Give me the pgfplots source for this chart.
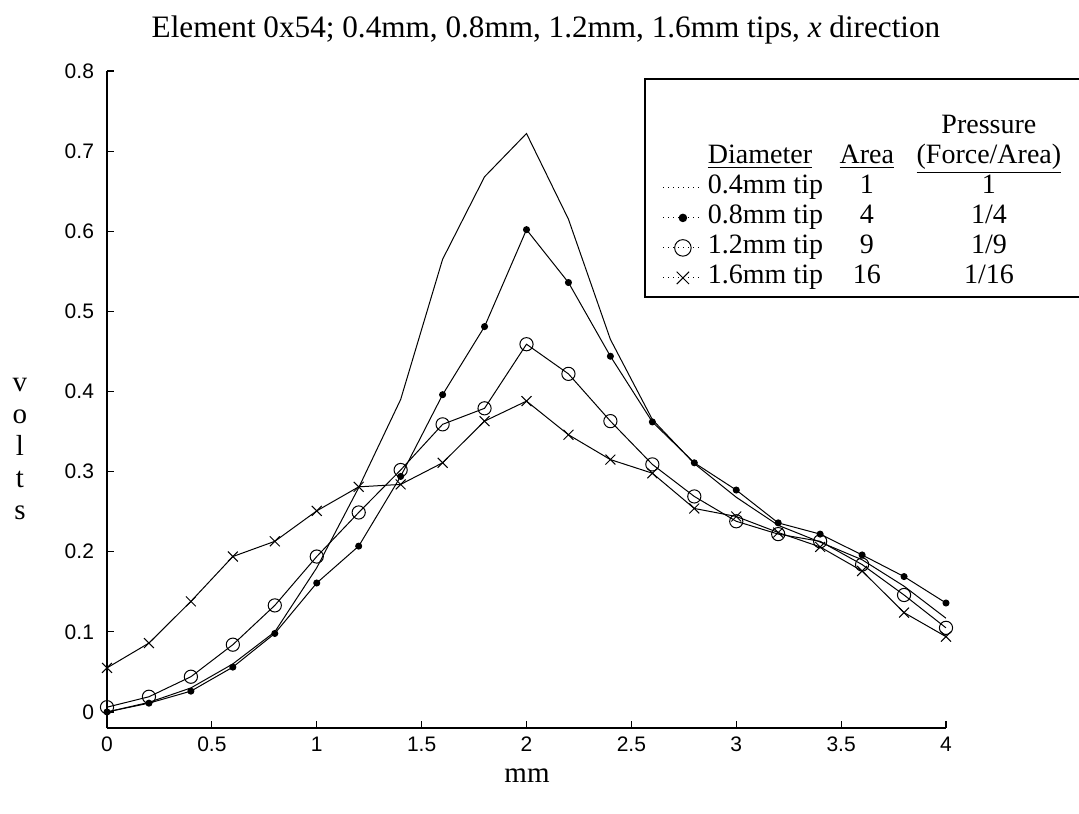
\documentclass[border=0pt]{standalone}
\usepackage{pgfplots}
\pgfplotsset{compat=1.18}
\usepackage{fontspec}
\setmainfont{Liberation Serif}
\newfontfamily\ticksf{Liberation Sans}
\begin{document}
\begin{tikzpicture}
\useasboundingbox (-53.5pt,-42.5pt) rectangle (486pt,364pt);
\begin{axis}[
  at={(0pt,0pt)}, anchor=south west,
  scale only axis,
  width=419.5pt, height=328.5pt,
  xmin=0, xmax=4, ymin=-0.02, ymax=0.8,
  axis x line=bottom, axis y line=left,
  axis line style={-, line width=0.6pt},
  tick align=inside,
  major tick length=3.5pt,
  tick style={line width=0.6pt, black},
  xtick={0,0.5,...,4},
  ytick={0,0.1,...,0.8},
  /pgf/number format/assume math mode=true,
  ticklabel style={font=\ticksf\fontsize{10.5pt}{12pt}\selectfont},
  yticklabel style={xshift=-3pt},
  xticklabel style={yshift=-1pt},
  every axis plot/.append style={line width=0.5pt, black},
  legend style={
    at={(0.64005,0.98935)}, anchor=north west,
    draw=black, line width=0.9pt, fill=white,
    font=\fontsize{14pt}{16pt}\selectfont,
    inner xsep=0pt, inner ysep=2pt,
    row sep=0pt, column sep=2.5pt,
    nodes={inner sep=0pt, text height=10.5pt, text depth=4.5pt},
    legend cell align=left,
  },
  legend image code/.code={
    \path (0pt,0pt) -- (0pt,0pt);
    \draw[mark repeat=2,mark phase=2,line width=0.5pt,dotted,
      every mark/.append style={scale=1.25}] plot coordinates {(9pt,0pt) (18.75pt,0pt) (28.5pt,0pt)};
  },
]
\addlegendimage{empty legend}
\addlegendentry{\makebox[186pt][l]{}}
\addlegendimage{empty legend}
\addlegendentry{\makebox[60pt][l]{}\makebox[39pt][c]{}\makebox[83pt][c]{Pressure}}
\addlegendimage{empty legend}
\addlegendentry{\makebox[60pt][l]{\underline{Diameter}}\makebox[39pt][c]{\underline{Area}}\makebox[83pt][c]{\underline{(Force/Area)}}}

\addplot[mark=none] coordinates {
(0,0.000) (0.2,0.012) (0.4,0.030) (0.6,0.060) (0.8,0.100) (1.0,0.180)
(1.2,0.280) (1.4,0.390) (1.6,0.565) (1.8,0.668) (2.0,0.722) (2.2,0.615)
(2.4,0.465) (2.6,0.365) (2.8,0.310) (3.0,0.268) (3.2,0.233) (3.4,0.212)
(3.6,0.190) (3.8,0.157) (4.0,0.117)};
\addlegendentry{\makebox[60pt][l]{0.4mm tip}\makebox[39pt][c]{1}\makebox[83pt][c]{1}}

\addplot[mark=*, mark size=1.5pt, mark options={solid, fill=black}] coordinates {
(0,0.000) (0.2,0.011) (0.4,0.026) (0.6,0.056) (0.8,0.098) (1.0,0.161)
(1.2,0.207) (1.4,0.294) (1.6,0.396) (1.8,0.481) (2.0,0.602) (2.2,0.536)
(2.4,0.444) (2.6,0.362) (2.8,0.311) (3.0,0.277) (3.2,0.236) (3.4,0.222)
(3.6,0.196) (3.8,0.169) (4.0,0.136)};
\addlegendentry{\makebox[60pt][l]{0.8mm tip}\makebox[39pt][c]{4}\makebox[83pt][c]{1/4}}

\addplot[mark=o, mark size=3.3pt, mark options={solid}] coordinates {
(0,0.006) (0.2,0.019) (0.4,0.044) (0.6,0.084) (0.8,0.133) (1.0,0.194)
(1.2,0.249) (1.4,0.302) (1.6,0.359) (1.8,0.379) (2.0,0.459) (2.2,0.422)
(2.4,0.363) (2.6,0.309) (2.8,0.269) (3.0,0.238) (3.2,0.222) (3.4,0.213)
(3.6,0.184) (3.8,0.146) (4.0,0.105)};
\addlegendentry{\makebox[60pt][l]{1.2mm tip}\makebox[39pt][c]{9}\makebox[83pt][c]{1/9}}

\addplot[mark=x, mark size=3.5pt, mark options={solid}] coordinates {
(0,0.055) (0.2,0.086) (0.4,0.138) (0.6,0.194) (0.8,0.213) (1.0,0.251)
(1.2,0.281) (1.4,0.284) (1.6,0.311) (1.8,0.363) (2.0,0.388) (2.2,0.346)
(2.4,0.315) (2.6,0.298) (2.8,0.254) (3.0,0.244) (3.2,0.224) (3.4,0.206)
(3.6,0.176) (3.8,0.124) (4.0,0.094)};
\addlegendentry{\makebox[60pt][l]{1.6mm tip}\makebox[39pt][c]{16}\makebox[83pt][c]{1/16}}
\end{axis}
\node[anchor=base, font=\fontsize{15.6pt}{18pt}\selectfont] at (219.5pt,345pt)
  {Element 0x54; 0.4mm, 0.8mm, 1.2mm, 1.6mm tips, \textit{x} direction};
\node[anchor=base, font=\fontsize{14.5pt}{17pt}\selectfont] at (210pt,-27pt) {mm};
\begin{scope}[every node/.style={anchor=base, font=\fontsize{14.5pt}{17pt}\selectfont}]
\node at (-43.5pt,168pt) {v};
\node at (-43.5pt,152pt) {o};
\node at (-43.5pt,136pt) {l};
\node at (-43.5pt,120pt) {t};
\node at (-43.5pt,104pt) {s};
\end{scope}
\end{tikzpicture}
\end{document}
